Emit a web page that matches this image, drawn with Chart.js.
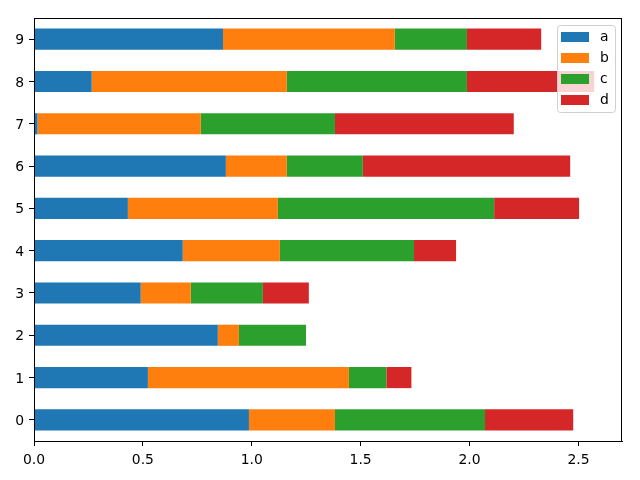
<!DOCTYPE html>
<html>
<head>
<meta charset="utf-8">
<script src="https://cdn.jsdelivr.net/npm/chart.js@4"></script>
<style>
  html, body { margin: 0; padding: 0; background: #fff; }
  canvas { display: block; }
</style>
</head>
<body>
<canvas id="chart" width="640" height="480"></canvas>
<script>
const categories = ['0', '1', '2', '3', '4', '5', '6', '7', '8', '9'];
const seriesA = [0.987, 0.523, 0.844, 0.490, 0.683, 0.431, 0.881, 0.016, 0.265, 0.868];
const seriesB = [0.395, 0.923, 0.097, 0.230, 0.446, 0.689, 0.280, 0.750, 0.896, 0.789];
const seriesC = [0.689, 0.172, 0.308, 0.331, 0.616, 0.993, 0.349, 0.616, 0.827, 0.331];
const seriesD = [0.405, 0.115, 0.000, 0.211, 0.193, 0.390, 0.952, 0.821, 0.584, 0.341];
const xTicks = [0, 0.5, 1.0, 1.5, 2.0, 2.5];
const xMax = 2.70;

const FONT = { family: 'DejaVu Sans', size: 13.9 };

// matplotlib draws a box round the whole axes
const frame = {
  id: 'frame',
  afterDatasetsDraw(chart) {
    const { ctx, chartArea: a } = chart;
    ctx.save();
    ctx.strokeStyle = '#000';
    ctx.lineWidth = 1;
    ctx.strokeRect(Math.round(a.left) + 0.5, Math.round(a.top) + 0.5,
                   Math.round(a.right - a.left) - 1, Math.round(a.bottom - a.top));
    ctx.restore();
  }
};

// category labels, right-aligned next to the y tick marks
const yLabels = {
  id: 'yLabels',
  afterDraw(chart) {
    const { ctx, chartArea: a } = chart;
    const scale = chart.scales.y;
    ctx.save();
    ctx.font = `${FONT.size}px "${FONT.family}"`;
    ctx.fillStyle = '#000';
    ctx.textAlign = 'right';
    ctx.textBaseline = 'middle';
    scale.ticks.forEach((t, i) => {
      ctx.fillText(scale.getLabelForValue(t.value), a.left - 10, scale.getPixelForTick(i) + 1.5);
    });
    ctx.restore();
  }
};

// legend inside the axes, upper right
const insideLegend = {
  id: 'insideLegend',
  afterDraw(chart) {
    const { ctx } = chart;
    const x = 557, y = 25, w = 58, h = 87, r = 3;
    ctx.save();
    ctx.beginPath();
    ctx.roundRect(x + 0.5, y + 0.5, w, h, r);
    ctx.fillStyle = 'rgba(255,255,255,0.8)';
    ctx.fill();
    ctx.strokeStyle = '#d0d0d0';
    ctx.lineWidth = 1;
    ctx.stroke();
    ctx.font = `${FONT.size}px "${FONT.family}"`;
    ctx.textBaseline = 'middle';
    chart.data.datasets.forEach((ds, i) => {
      const cy = y + 12 + i * 21;
      ctx.fillStyle = ds.backgroundColor;
      ctx.fillRect(561, cy - 5, 28, 10);
      ctx.fillStyle = '#000';
      ctx.fillText(ds.label, 600, cy);
    });
    ctx.restore();
  }
};

new Chart(document.getElementById('chart'), {
  type: 'bar',
  data: {
    labels: categories,
    datasets: [
      { label: 'a', data: seriesA, backgroundColor: '#1f77b4' },
      { label: 'b', data: seriesB, backgroundColor: '#ff7f0e' },
      { label: 'c', data: seriesC, backgroundColor: '#2ca02c' },
      { label: 'd', data: seriesD, backgroundColor: '#d62728' }
    ]
  },
  options: {
    indexAxis: 'y',
    responsive: false,
    animation: false,
    devicePixelRatio: 1,
    datasets: { bar: { barPercentage: 0.5, categoryPercentage: 1.0, borderWidth: 0 } },
    layout: { padding: { left: 0, top: 18, right: 18, bottom: 0 } },
    plugins: { legend: { display: false }, tooltip: { enabled: false } },
    scales: {
      x: {
        stacked: true,
        min: 0,
        max: xMax,
        afterBuildTicks(scale) { scale.ticks = xTicks.map(v => ({ value: v })); },
        afterFit(scale) { scale.height = 39; },
        ticks: {
          includeBounds: false,
          color: '#000',
          font: FONT,
          padding: 6,
          maxRotation: 0,
          callback: v => Number(v).toFixed(1)
        },
        grid: { drawOnChartArea: false, drawTicks: true, tickLength: 5, color: '#000' },
        border: { display: true, color: '#000' }
      },
      y: {
        stacked: true,
        reverse: true,
        afterFit(scale) { scale.width = 34; },
        ticks: { display: false },
        grid: { drawOnChartArea: false, drawTicks: true, tickLength: 5, color: '#000', offset: false },
        border: { display: true, color: '#000' }
      }
    }
  },
  plugins: [frame, yLabels, insideLegend]
});
</script>
</body>
</html>
